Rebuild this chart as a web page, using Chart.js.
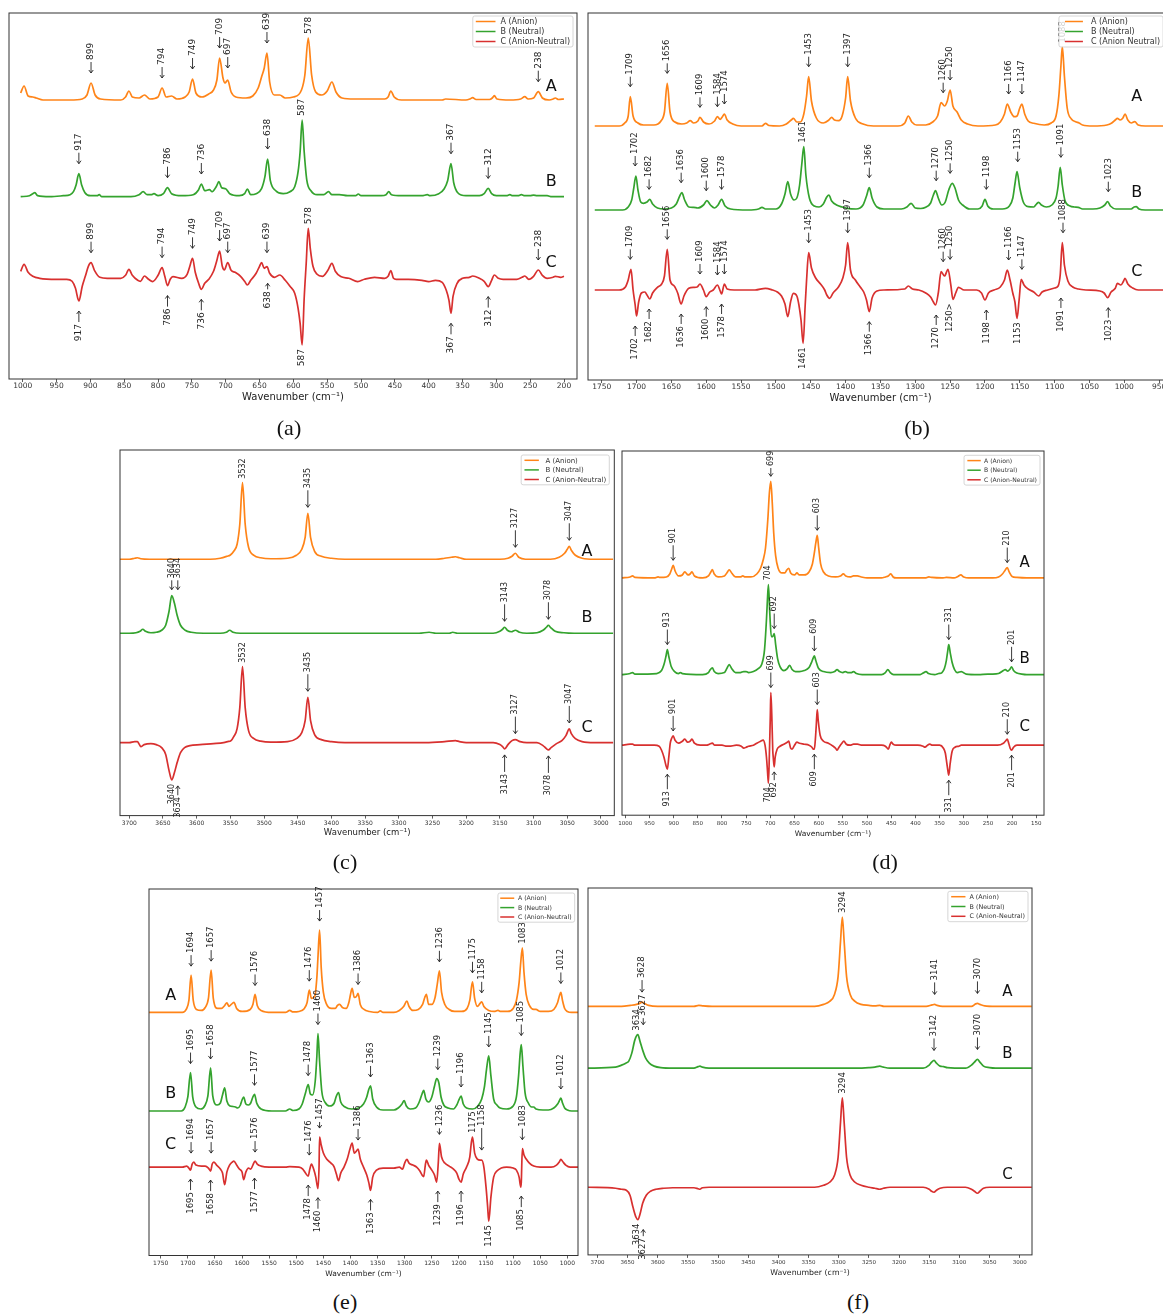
<!DOCTYPE html>
<html>
<head>
<meta charset="utf-8">
<script src="https://cdn.jsdelivr.net/npm/chart.js@4.4.0/dist/chart.umd.min.js"></script>
<style>
html, body { margin: 0; padding: 0; background: #fff; overflow: hidden; width: 1163px; height: 1316px; }
canvas { position: absolute; }
.cap { position: absolute; font-family: "Liberation Serif", "Times New Roman", serif; font-size: 22px; color: #111; transform: translate(-50%, -50%); }
</style>
</head>
<body>
<canvas id="pa"></canvas>
<canvas id="pb"></canvas>
<canvas id="pc"></canvas>
<canvas id="pd"></canvas>
<canvas id="pe"></canvas>
<canvas id="pf"></canvas>
<div class="cap" style="left:289px;top:428px">(a)</div>
<div class="cap" style="left:917px;top:428px">(b)</div>
<div class="cap" style="left:345px;top:862px">(c)</div>
<div class="cap" style="left:885px;top:862px">(d)</div>
<div class="cap" style="left:345px;top:1302px">(e)</div>
<div class="cap" style="left:858px;top:1302px">(f)</div>
<script>
// tick labels (wavenumber, cm-1)
var ticksA = [1000, 950, 900, 850, 800, 750, 700, 650, 600, 550, 500, 450, 400, 350, 300, 250, 200];
var ticksB = [1750, 1700, 1650, 1600, 1550, 1500, 1450, 1400, 1350, 1300, 1250, 1200, 1150, 1100, 1050, 1000, 950];
var ticksC = [3700, 3650, 3600, 3550, 3500, 3450, 3400, 3350, 3300, 3250, 3200, 3150, 3100, 3050, 3000];
var ticksD = [1000, 950, 900, 850, 800, 750, 700, 650, 600, 550, 500, 450, 400, 350, 300, 250, 200, 150];
var ticksE = [1750, 1700, 1650, 1600, 1550, 1500, 1450, 1400, 1350, 1300, 1250, 1200, 1150, 1100, 1050, 1000];
var ticksF = [3700, 3650, 3600, 3550, 3500, 3450, 3400, 3350, 3300, 3250, 3200, 3150, 3100, 3050, 3000];

var seriesNames = ['A (Anion)', 'B (Neutral)', 'C (Anion-Neutral)'];

// spectra: [wavenumber, intensity] (arbitrary units, each trace relative to its own baseline)
var aAnion = [[1003,7],[998,14],[992,4],[985,3],[980,2],[970,0],[930,0],[912,1],[905,5],[899,17],[893,5],[885,1],[855,0],[848,3],[843,9],[838,3],[828,2],[820,5],[812,1],[800,3],[794,12],[788,3],[780,4],[772,1],[760,3],[754,8],[749,21],[744,7],[735,3],[725,6],[718,10],[713,20],[709,42],[704,22],[701,17],[697,20],[692,8],[685,3],[670,2],[660,4],[652,12],[647,23],[643,32],[639,47],[635,18],[628,5],[620,5],[612,2],[600,3],[588,10],[583,25],[578,62],[573,25],[567,8],[558,5],[550,9],[543,18],[537,8],[528,2],[510,1],[480,1],[465,1],[460,3],[456,9],[451,3],[440,0],[380,0],[375,1],[345,0],[339,1],[335,2.3],[330,0.5],[310,0.5],[306,2],[303,4.3],[299,1],[280,0],[264,1],[258,3.3],[253,1],[245,2],[238,8.3],[232,2],[222,0],[216,1],[213,2],[208,0.5],[200,1]];
var aNeutral = [[1003,0],[990,1],[985,3],[982,4],[978,1],[960,0],[940,1],[930,2],[925,5],[921,12],[917,23],[913,12],[908,4],[900,1],[890,1],[887,2],[883,0],[840,0],[828,2],[822,5],[816,2],[810,2],[806,3],[800,1],[792,3],[786,9],[780,3],[765,1],[748,2],[740,7],[736,12.7],[731,6],[724,7],[720,5],[714,10],[710,15],[706,9],[700,8],[694,3],[680,1],[672,3],[668,7.7],[663,2],[655,3],[647,8],[642,20],[638,37.7],[634,16],[626,6],[615,3],[605,5],[598,10],[593,25],[590,45],[587,76.7],[584,45],[580,16],[574,6],[565,2],[555,2],[548,5],[543,2],[532,2],[520,1],[508,1],[504,2.7],[500,1],[470,1],[463,2],[459,5],[455,2],[440,1],[410,1],[402,2],[398,1],[385,3],[377,8],[372,16],[367,33],[363,14],[357,4],[345,1],[325,1],[318,3],[312,8.3],[307,3],[300,1],[285,1],[280,2],[276,1],[268,1],[263,2],[258,1],[250,1],[245,1.5],[240,1],[225,1],[218,0],[200,0]];
var aDiff = [[1003,7],[998,14],[992,6],[985,2],[975,0],[950,-1],[935,-1],[927,-3],[922,-10],[917,-22.7],[912,-8],[907,3],[903,12],[899,15.6],[894,8],[886,1],[875,0],[855,0],[848,3],[843,9],[838,3],[830,-2],[826,-3],[820,2.3],[814,-1],[808,-3.3],[800,3],[794,10.7],[790,2],[786,-7.3],[782,-1],[778,1.7],[765,0],[757,4],[753,12],[749,20],[745,6],[740,-5],[736,-11],[731,-5],[725,-1],[718,7],[713,18],[709,27.3],[705,12],[702,8.3],[697,15.7],[692,8],[686,6],[678,2],[672,-3],[668,-6.7],[663,-2],[655,5],[650,12],[647,15.7],[643,10],[639,11.7],[635,5],[628,1],[620,3.3],[612,-2],[605,-8],[598,-15],[593,-30],[590,-45],[587,-66.7],[584,-20],[581,15],[578,50],[575,30],[571,12],[565,4],[557,2],[549,8],[543,15],[538,7],[530,1.7],[518,0],[505,-3.3],[495,-1],[480,1],[465,0],[460,2],[456,7.7],[452,0],[448,-1],[430,-1],[410,-2],[400,-3.3],[390,-2],[380,-4],[374,-12],[370,-22],[367,-35],[364,-18],[358,-5],[350,0],[340,1],[335,2.3],[325,0],[318,-3],[312,-8.3],[307,-2],[303,3.3],[297,0],[290,-1],[270,-1],[262,1],[258,2.3],[252,-1],[245,2],[238,8.3],[232,3],[225,0],[216,1],[213,2],[205,1],[200,2]];

var bAnion = [[1760,0],[1725,0],[1717,3],[1712,10],[1709,29.3],[1705,10],[1698,3],[1690,1],[1675,1],[1665,5],[1660,14],[1656,42.7],[1652,14],[1645,4],[1635,2],[1628,3],[1623,5.3],[1618,3],[1612,5],[1609,8.7],[1604,4],[1596,2],[1588,5],[1584,9.3],[1580,6.7],[1577,9],[1574,12],[1570,6],[1562,2],[1550,0],[1520,0],[1515,2.7],[1510,0.5],[1495,0],[1485,2],[1478,6],[1475,7.7],[1470,4],[1465,4],[1460,12],[1456,30],[1453,49.3],[1449,25],[1442,8],[1432,3],[1424,6],[1420,8.7],[1416,6],[1410,5.3],[1405,10],[1400,28],[1397,49.3],[1393,25],[1386,8],[1375,2],[1360,0],[1325,0],[1315,3],[1310,10],[1305,4],[1298,1],[1285,1],[1275,4],[1268,10],[1263,23.3],[1258,20],[1254,25],[1250,36],[1246,20],[1240,14],[1234,6],[1225,2],[1210,0],[1185,1],[1178,4],[1172,12],[1168,22],[1163,14],[1158,9.3],[1154,10],[1150,18],[1147,22],[1143,12],[1138,5],[1130,2.7],[1115,1],[1105,3],[1098,10],[1094,30],[1091,60],[1089,79.3],[1086,50],[1082,18],[1076,7],[1070,4.3],[1065,3],[1060,1],[1045,0],[1025,1],[1018,3],[1013,6],[1010,7.7],[1006,6],[1002,8],[999,12],[995,6],[990,3],[985,4.3],[980,1],[970,0],[930,0]];
var bNeutral = [[1760,0],[1720,0],[1712,3],[1707,10],[1704,22],[1701,34],[1698,20],[1694,8],[1690,6.7],[1685,8],[1681,10.7],[1677,6],[1670,2],[1660,1],[1650,2],[1643,6],[1638,14],[1635,17.3],[1631,10],[1625,3],[1618,2.7],[1612,2],[1604,5],[1599,9.3],[1594,5],[1588,2],[1583,5],[1578,10.7],[1573,4],[1565,1],[1540,0],[1525,1],[1520,2.7],[1515,1],[1500,1],[1492,6],[1487,16],[1483,28.3],[1479,16],[1474,10],[1470,12],[1466,25],[1463,45],[1460,63.3],[1457,35],[1452,12],[1445,4],[1438,3],[1432,6],[1427,13],[1424,15],[1420,9],[1413,5],[1405,3],[1398,1.7],[1385,1],[1375,5],[1370,14],[1366,22.3],[1362,12],[1355,3],[1345,1],[1320,1],[1312,3],[1306,6.7],[1300,2],[1292,1.5],[1285,2.7],[1278,7],[1274,15],[1271,19.3],[1267,12],[1262,5],[1257,8],[1252,20],[1247,26.7],[1243,22],[1238,10],[1232,5],[1222,1],[1210,1],[1204,4],[1200,10.7],[1196,4],[1188,1],[1175,1],[1165,4],[1160,12],[1157,26],[1154,38.3],[1150,22],[1145,8],[1138,3.3],[1130,3],[1126,6],[1123,7.7],[1119,5],[1112,3],[1104,5],[1098,12],[1095,24],[1092,42.7],[1089,25],[1085,9],[1078,4],[1072,3],[1066,2.7],[1060,1],[1045,1],[1035,2],[1028,5],[1024,8.3],[1020,4],[1012,1],[1000,1],[990,1],[986,3],[983,3.3],[979,1],[970,0],[930,0]];
var bDiff = [[1760,0],[1725,0],[1716,3],[1712,10],[1708,20.7],[1705,0],[1702,-15],[1700,-26],[1697,-12],[1693,-3],[1688,-2],[1685,-5],[1681,-9],[1677,-3],[1670,2.7],[1664,6],[1660,14],[1656,40.7],[1652,10],[1646,4],[1641,-3],[1636,-14],[1632,-6],[1625,1.7],[1618,2.7],[1613,3],[1609,6],[1604,0],[1600,-6.7],[1595,-2],[1590,0],[1584,5],[1580,-1],[1578,-4],[1574,6],[1570,1],[1560,0],[1530,0],[1515,1.7],[1505,0],[1498,-2],[1492,-6],[1487,-14],[1483,-26.7],[1479,-12],[1475,-3.3],[1470,-6],[1467,-15],[1464,-30],[1461,-53.3],[1458,-15],[1456,10],[1453,37.3],[1449,22],[1443,12],[1436,6],[1430,0],[1427,-5],[1423,-8.3],[1418,-3],[1410,3.3],[1404,12],[1400,25],[1397,47.3],[1393,20],[1386,10],[1379,3],[1374,-2],[1370,-10],[1366,-21.7],[1362,-8],[1355,-1],[1345,0],[1315,1],[1310,4],[1304,1],[1295,0],[1285,-3],[1278,-7],[1274,-12],[1271,-15],[1267,-3],[1263,18.3],[1258,14],[1253,20.7],[1249,5],[1246,-9.3],[1242,-3],[1238,2.7],[1230,0],[1212,0],[1205,-3],[1200,-10],[1195,-3],[1187,0],[1178,3],[1172,10],[1168,20],[1164,10],[1160,-3.3],[1157,-12],[1154,-28.3],[1151,-10],[1148,10.7],[1144,5],[1138,1],[1130,-2],[1123,-6],[1118,-2],[1110,0],[1100,2],[1095,4],[1092,15],[1089,47.3],[1086,25],[1081,9],[1074,3],[1066,1],[1055,0],[1035,-1],[1029,-3],[1024,-7.7],[1019,-2],[1013,1.7],[1010,6.7],[1005,5],[1001,9],[999,11.7],[995,6],[988,2],[980,0],[930,0]];

var cAnion = [[3715,0],[3700,0],[3692,1],[3688,1.5],[3683,0.5],[3670,0],[3580,0],[3565,1],[3555,3],[3550,4.3],[3545,8],[3540,15],[3536,35],[3532,76.6],[3528,35],[3523,12],[3515,4],[3505,1.5],[3490,0.5],[3465,1],[3452,4],[3444,10],[3439,22],[3435,46],[3431,22],[3425,8],[3415,3],[3400,1],[3380,0],[3260,0],[3245,0],[3232,1],[3222,2],[3216,2.5],[3210,1.5],[3200,0],[3150,0],[3138,1],[3132,3],[3127,6],[3122,2],[3112,0],[3075,0],[3062,2],[3054,6],[3050,10],[3047,13],[3044,9],[3038,4],[3028,1],[3010,0],[2982,0]];
var cNeutral = [[3715,0],[3700,0],[3690,0.5],[3684,2],[3680,4],[3676,2],[3668,0.5],[3660,1],[3652,3],[3646,8],[3641,22],[3637,37.6],[3633,30],[3629,18],[3624,8],[3617,3],[3608,1],[3590,0],[3565,0],[3556,1],[3551,3],[3546,1],[3535,0],[3270,0],[3255,1],[3245,0],[3225,0],[3220,1],[3213,0],[3160,0],[3150,2],[3146,4],[3143,6],[3139,3],[3133,1.5],[3127,3],[3121,1],[3110,0],[3095,0.5],[3086,3],[3081,6],[3078,8],[3075,6],[3068,2],[3055,0.5],[3040,0],[2982,0]];
var cDiff = [[3715,0],[3700,0],[3692,1],[3688,1],[3685,-2],[3683,-4],[3678,-2],[3668,-1],[3660,-2],[3652,-5],[3646,-12],[3641,-28],[3637,-37.3],[3633,-30],[3629,-20],[3624,-10],[3618,-5],[3610,-3],[3595,-2],[3575,-1],[3560,0],[3554,1],[3549,2],[3545,6],[3540,14],[3536,35],[3532,76],[3528,35],[3523,12],[3515,4],[3505,1.5],[3490,0.5],[3465,1],[3452,4],[3444,10],[3439,22],[3435,45.4],[3431,22],[3425,8],[3415,3],[3400,1],[3380,0],[3260,0],[3232,1],[3216,2],[3210,1],[3200,0],[3160,0],[3150,-2],[3146,-4],[3143,-6.3],[3138,-2],[3132,2],[3127,3],[3120,1],[3110,0],[3095,0],[3086,-3],[3081,-6],[3078,-7.3],[3074,-5],[3066,-1],[3058,2],[3052,7],[3047,13.7],[3044,9],[3038,4],[3028,1],[3010,0],[2982,0]];

var dAnion = [[1007,0],[990,1],[985,2],[980,0.5],[940,0],[932,1],[928,0.5],[915,1],[908,4],[904,9],[901,12.7],[897,7],[890,2],[882,3],[877,6],[870,3],[866,4],[862,6],[857,2],[840,0],[828,2],[823,6],[820,8.4],[816,4],[808,1],[795,2],[790,5],[785,8],[780,5],[772,1],[762,1],[757,2],[752,1],[740,1],[728,4],[720,10],[715,17.7],[710,30],[705,60],[702,85],[699,96.7],[696,75],[693,45],[689,22],[684,10],[676,5],[670,5],[666,8],[662,9.7],[658,5],[650,3],[645,5],[640,3],[630,3],[620,6],[613,14],[609,25],[606,35],[603,42.7],[600,30],[596,14],[590,6],[580,2],[565,1],[555,2],[549,4],[544,2],[535,1],[528,2],[520,2],[512,1],[500,0],[470,0],[462,1],[456,2],[451,4],[446,1],[440,0],[380,0],[372,1],[366,0.5],[345,0],[336,0.5],[320,0],[312,1.5],[306,3],[300,1],[290,0],[240,0],[228,1],[220,4],[214,8],[210,10.4],[206,6],[200,1.5],[190,0.5],[170,0],[134,0]];
var dNeutral = [[1007,0],[990,1],[985,2],[980,0.5],[935,1],[925,4],[920,10],[916,18],[913,25],[910,18],[905,8],[898,3],[890,1],[886,2],[882,1],[840,0],[828,2],[824,5],[820,6.7],[816,3],[808,1],[795,2],[790,6],[785,10],[780,6],[772,2],[762,2],[755,3],[750,3],[745,2],[735,3],[725,6],[718,10],[712,25],[708,55],[706,75],[704,90],[701,60],[698,38],[695,38],[692,41],[689,30],[685,16],[680,8],[672,4],[665,6],[660,9.3],[655,5],[648,3],[640,3],[630,4],[620,7],[615,12],[611,17],[609,18.7],[606,14],[600,6],[590,3],[575,2],[567,3],[562,5],[557,3],[550,2],[545,3],[540,2],[532,2],[528,3],[522,1],[510,0],[470,0],[462,2],[457,5],[452,2],[445,0],[390,0],[384,1.5],[378,3],[373,1],[360,0],[352,1],[345,2],[340,6],[336,14],[333,24],[331,30],[328,22],[324,12],[319,5],[313,2],[305,3],[301,2],[295,0.5],[270,0],[250,0.5],[240,0.5],[228,1],[218,4],[214,5],[209,3.5],[205,5],[201,7.7],[197,4],[190,1.5],[180,0.5],[170,0],[134,0]];
var dDiff = [[1007,0],[990,1],[985,1],[980,0],[940,0],[930,-1],[925,-5],[920,-12],[916,-20],[913,-24],[910,-12],[907,2],[904,7],[901,9.3],[897,5],[890,2],[882,4],[877,6],[871,3],[866,4],[862,6],[857,2],[845,0],[832,0],[826,1],[820,2],[815,0],[800,0],[790,-1],[785,-1],[770,0],[760,-1],[755,-3],[750,-2],[745,-1],[735,0],[728,2],[720,4],[715,5],[711,0],[708,-12],[706,-25],[704,-38],[702,-10],[700,30],[699,52.7],[697,30],[695,-5],[694,-12],[692,-21.7],[690,-12],[686,-4],[680,-1],[672,1],[665,3],[662,4],[658,-3],[655,-4],[650,0],[645,3],[640,2],[630,1],[620,0],[614,-2],[611,-4],[609,-4],[607,5],[605,20],[603,35.7],[601,25],[597,10],[590,4],[580,2],[570,-1],[565,-3],[562,-5],[558,-2],[552,2],[548,4],[543,1],[535,0],[528,1],[520,1],[510,0],[470,0],[462,-1],[458,-3],[456,-4],[453,0],[450,3],[446,1],[440,0],[395,0],[384,-1],[380,-2],[375,0],[370,1],[365,0],[350,0],[342,-3],[338,-8],[335,-18],[332,-28],[331,-30],[328,-18],[324,-6],[318,-2],[310,-1],[305,0],[270,0],[230,0],[218,2],[214,4],[210,6],[207,2],[204,-3],[201,-5],[197,-2],[190,0],[170,0],[134,0]];

var eAnion = [[1772,0],[1710,0],[1703,3],[1698,12],[1694,37.3],[1690,12],[1684,3],[1675,2],[1668,5],[1662,14],[1657,42.3],[1653,14],[1645,4],[1638,4],[1632,7],[1628,9.6],[1624,6],[1620,8],[1615,10],[1610,4],[1600,1],[1585,3],[1580,8],[1576,18],[1572,7],[1565,2],[1545,0],[1520,0],[1512,2],[1506,0.5],[1495,1],[1485,4],[1480,10],[1476,22.3],[1472,14],[1466,16],[1462,35],[1460,55],[1457,82.3],[1454,45],[1450,20],[1444,8],[1435,4],[1428,4],[1424,7],[1420,8],[1415,5],[1408,4],[1403,10],[1400,18],[1397,24],[1393,15],[1389,16],[1386,19],[1382,8],[1375,3],[1365,1],[1350,0],[1345,1.5],[1340,0],[1320,0],[1310,2],[1302,6],[1296,11.3],[1292,6],[1285,2],[1275,3],[1267,8],[1263,15],[1260,18],[1256,8],[1250,8],[1244,15],[1240,28],[1236,41.6],[1232,20],[1226,8],[1218,3],[1208,1],[1195,1],[1185,4],[1180,12],[1175,30.6],[1171,14],[1166,6],[1161,9],[1158,10.6],[1154,6],[1145,2],[1135,1],[1128,2],[1123,1],[1110,1],[1100,4],[1094,12],[1089,30],[1086,50],[1083,64.6],[1080,40],[1076,18],[1070,7],[1062,3],[1058,3],[1050,1],[1035,1],[1025,3],[1018,10],[1015,16],[1012,20],[1009,12],[1005,4],[1000,1],[992,0],[980,0]];
var eNeutral = [[1772,0],[1712,0],[1705,4],[1700,14],[1695,38.4],[1691,14],[1685,4],[1676,2],[1669,5],[1663,15],[1658,43],[1654,15],[1646,6],[1640,8],[1636,16],[1632,23],[1628,10],[1622,5],[1617,4.5],[1612,4],[1608,3],[1603,6],[1600,11],[1597,14],[1593,7],[1588,6],[1584,8],[1580,14],[1577,16.7],[1573,8],[1565,2],[1545,0],[1520,0],[1512,2],[1506,0.5],[1495,2],[1489,7],[1483,18],[1478,26.4],[1474,17],[1470,16],[1465,30],[1462,55],[1460,77.4],[1457,50],[1453,20],[1446,8],[1438,5],[1430,8],[1426,15],[1422,18.4],[1418,9],[1410,4],[1398,2],[1385,3],[1376,7],[1370,14],[1366,22],[1363,25],[1359,12],[1352,4],[1340,1],[1320,1],[1312,3],[1305,7],[1301,10.4],[1297,5],[1290,2],[1280,3],[1274,8],[1268,17],[1265,20.7],[1261,12],[1256,9],[1250,14],[1245,25],[1241,32.4],[1237,28],[1233,14],[1228,6],[1220,3],[1210,2],[1204,6],[1200,11],[1196,15],[1192,7],[1186,3],[1175,2],[1165,5],[1158,12],[1153,24],[1149,42],[1145,55],[1141,35],[1136,12],[1130,6],[1124,3],[1112,2],[1100,5],[1094,14],[1090,35],[1087,58],[1085,66.4],[1082,45],[1078,18],[1072,8],[1066,4],[1062,4],[1058,2],[1045,1],[1035,1],[1025,3],[1018,7],[1015,10],[1012,13],[1009,8],[1005,3],[1000,1],[992,0],[980,0]];
var eDiff = [[1772,0],[1710,0],[1702,1],[1698,-1],[1695,-3],[1692,3],[1689,5],[1685,2],[1675,1],[1668,1],[1662,-1],[1658,-4],[1655,3],[1652,5],[1647,2],[1640,-2],[1636,-6],[1632,-17.6],[1628,-5],[1623,2],[1618,5],[1615,6],[1610,2],[1605,-2],[1600,-5],[1597,-12.6],[1593,-5],[1588,-1],[1584,-2],[1580,2],[1576,6],[1572,3],[1565,1],[1550,0],[1520,0],[1512,0.5],[1495,0],[1488,-2],[1483,-6],[1478,-9],[1475,-2],[1472,3],[1468,-2],[1464,-10],[1460,-21.6],[1458,0],[1457,30],[1454,22],[1450,14],[1444,8],[1436,4],[1430,0],[1426,-7],[1422,-13.6],[1418,-6],[1412,0],[1406,8],[1401,18],[1397,24],[1393,14],[1389,16],[1386,18],[1382,8],[1376,0],[1370,-8],[1366,-16],[1363,-23.3],[1359,-10],[1352,-3],[1340,-1],[1320,-1],[1310,0],[1304,-2],[1300,4],[1296,7.7],[1292,4],[1285,2],[1278,0],[1272,-4],[1268,-8],[1265,-9.6],[1262,2],[1260,7],[1256,2],[1250,-3],[1245,-8],[1241,-15],[1238,5],[1236,23.7],[1232,10],[1226,4],[1218,1],[1210,-2],[1204,-6],[1200,-12],[1196,-15],[1192,-7],[1186,0],[1180,10],[1177,25],[1175,30],[1171,14],[1166,8],[1161,7],[1158,7],[1154,0],[1150,-20],[1147,-40],[1145,-54],[1141,-30],[1136,-10],[1130,-4],[1122,-1],[1112,0],[1100,-1],[1094,-3],[1089,-10],[1086,-20],[1085,-15],[1083,18.4],[1080,12],[1076,8],[1070,4],[1062,1],[1050,0],[1030,0],[1020,2],[1015,5],[1012,7.7],[1008,5],[1003,2],[995,0],[980,0]];

var fAnion = [[3716,0],[3660,0],[3645,1],[3635,2],[3630,3],[3626,4.3],[3622,3],[3615,1],[3600,0],[3540,0],[3532,1],[3525,0.5],[3510,0],[3340,0],[3325,2],[3315,5],[3307,12],[3301,30],[3297,65],[3294,89.3],[3291,65],[3287,30],[3281,12],[3273,5],[3263,2],[3250,1],[3240,0.5],[3232,1],[3225,0],[3155,0],[3145,1.5],[3141,2],[3137,1],[3128,0],[3080,0],[3073,2.5],[3070,3],[3066,2],[3058,0.5],[3040,0],[2980,0]];
var fNeutral = [[3716,0],[3670,1],[3660,3],[3653,5],[3648,7],[3643,15],[3638,28],[3633,33.4],[3629,26],[3625,18],[3620,10],[3614,5],[3606,2],[3595,0.5],[3575,0],[3540,0],[3533,1.5],[3530,2],[3526,1],[3515,0],[3270,0],[3250,0.5],[3240,1],[3232,2],[3226,1],[3215,0],[3160,0],[3150,3],[3146,6],[3142,7.7],[3138,5],[3132,2],[3126,1.5],[3120,0.5],[3090,0],[3080,3],[3075,6],[3070,8.7],[3066,6],[3060,2],[3050,0.5],[3040,0],[2980,0]];
var fDiff = [[3716,0],[3670,-1],[3660,-2],[3652,-3],[3646,-8],[3641,-20],[3636,-30],[3633,-32.3],[3629,-26],[3625,-16],[3619,-8],[3612,-4],[3603,-2],[3590,-1],[3575,-0.5],[3540,-0.5],[3533,-1.5],[3530,-2],[3526,-0.5],[3515,0],[3340,0],[3325,2],[3315,5],[3307,12],[3301,30],[3297,65],[3294,89.4],[3291,65],[3287,30],[3281,12],[3273,5],[3263,2],[3250,0],[3240,-1],[3232,-2],[3226,-1],[3215,0],[3160,0],[3150,-2],[3146,-4],[3142,-5],[3138,-3],[3132,-1],[3120,0],[3090,0],[3080,-2],[3075,-4],[3070,-6],[3066,-4],[3060,-1],[3050,0],[2980,0]];

// peak labels: [wavenumber, text, trace (0 A, 1 B, 2 C), 'd' label above / 'u' label below, arrow 0 none 1 normal 2 short 3 long]
var aPeaks = [[899,'899',0,'d',1],[794,'794',0,'d',1],[749,'749',0,'d',1],[709,'709',0,'d',1],[697,'697',0,'d',1],[639,'639',0,'d',1],[578,'578',0,'d',0],[238,'238',0,'d',1],
  [917,'917',1,'d',1],[786,'786',1,'d',1],[736,'736',1,'d',1],[638,'638',1,'d',1],[587,'587',1,'d',0],[367,'367',1,'d',1],[312,'312',1,'d',1],
  [899,'899',2,'d',1],[794,'794',2,'d',1],[749,'749',2,'d',1],[709,'709',2,'d',1],[697,'697',2,'d',1],[639,'639',2,'d',1],[578,'578',2,'d',0],[238,'238',2,'d',1],
  [917,'917',2,'u',1],[786,'786',2,'u',1],[736,'736',2,'u',1],[638,'638',2,'u',2],[587,'587',2,'u',0],[367,'367',2,'u',1],[312,'312',2,'u',1]];
var bPeaks = [[1709,'1709',0,'d',1],[1656,'1656',0,'d',1],[1609,'1609',0,'d',1],[1584,'1584',0,'d',1],[1574,'1574',0,'d',1],[1453,'1453',0,'d',1],[1397,'1397',0,'d',1],[1260,'1260',0,'d',1],[1250,'1250',0,'d',1],[1166,'1166',0,'d',1],[1147,'1147',0,'d',1],[1088,'1088',0,'d',0],
  [1702,'1702',1,'d',1],[1682,'1682',1,'d',1],[1636,'1636',1,'d',1],[1600,'1600',1,'d',1],[1578,'1578',1,'d',1],[1461,'1461',1,'d',0],[1366,'1366',1,'d',1],[1270,'1270',1,'d',1],[1250,'1250',1,'d',1],[1198,'1198',1,'d',1],[1153,'1153',1,'d',1],[1091,'1091',1,'d',1],[1023,'1023',1,'d',1],
  [1709,'1709',2,'d',1],[1656,'1656',2,'d',1],[1609,'1609',2,'d',1],[1584,'1584',2,'d',1],[1574,'1574',2,'d',1],[1453,'1453',2,'d',1],[1397,'1397',2,'d',1],[1260,'1260',2,'d',1],[1250,'1250',2,'d',1],[1166,'1166',2,'d',1],[1147,'1147',2,'d',1],[1088,'1088',2,'d',1],
  [1702,'1702',2,'u',1],[1682,'1682',2,'u',1],[1636,'1636',2,'u',1],[1600,'1600',2,'u',1],[1578,'1578',2,'u',1],[1461,'1461',2,'u',0],[1366,'1366',2,'u',1],[1270,'1270',2,'u',1],[1250,'1250>',2,'u',0],[1198,'1198',2,'u',1],[1153,'1153',2,'u',0],[1091,'1091',2,'u',1],[1023,'1023',2,'u',1]];
var cPeaks = [[3532,'3532',0,'d',0],[3435,'3435',0,'d',1],[3127,'3127',0,'d',1],[3047,'3047',0,'d',1],
  [3637,'3640',1,'d',2],[3628,'3634',1,'d',2],[3143,'3143',1,'d',1],[3078,'3078',1,'d',1],
  [3532,'3532',2,'d',0],[3435,'3435',2,'d',1],[3127,'3127',2,'d',1],[3047,'3047',2,'d',1],
  [3637,'3640',2,'u',0],[3628,'3634',2,'u',2],[3143,'3143',2,'u',1],[3078,'3078',2,'u',1]];
var dPeaks = [[901,'901',0,'d',1],[699,'699',0,'d',2],[603,'603',0,'d',1],[210,'210',0,'d',1],
  [913,'913',1,'d',1],[704,'704',1,'d',0],[692,'692',1,'d',1],[609,'609',1,'d',1],[331,'331',1,'d',1],[201,'201',1,'d',1],
  [901,'901',2,'d',1],[699,'699',2,'d',1],[603,'603',2,'d',1],[210,'210',2,'d',1],
  [913,'913',2,'u',1],[704,'704',2,'u',0],[692,'692',2,'u',2],[609,'609',2,'u',1],[331,'331',2,'u',1],[201,'201',2,'u',1]];
var ePeaks = [[1694,'1694',0,'d',1],[1657,'1657',0,'d',1],[1576,'1576',0,'d',1],[1476,'1476',0,'d',1],[1457,'1457',0,'d',1],[1386,'1386',0,'d',1],[1236,'1236',0,'d',1],[1175,'1175',0,'d',1],[1158,'1158',0,'d',1],[1083,'1083',0,'d',0],[1012,'1012',0,'d',1],
  [1695,'1695',1,'d',1],[1658,'1658',1,'d',1],[1577,'1577',1,'d',1],[1478,'1478',1,'d',1],[1460,'1460',1,'d',1],[1363,'1363',1,'d',1],[1239,'1239',1,'d',1],[1196,'1196',1,'d',1],[1145,'1145',1,'d',1],[1085,'1085',1,'d',1],[1012,'1012',1,'d',1],
  [1694,'1694',2,'d',1],[1657,'1657',2,'d',1],[1576,'1576',2,'d',1],[1476,'1476',2,'d',1],[1457,'1457',2,'d',2],[1386,'1386',2,'d',1],[1236,'1236',2,'d',2],[1175,'1175',2,'d',0],[1158,'1158',2,'d',3],[1083,'1083',2,'d',1],
  [1695,'1695',2,'u',1],[1658,'1658',2,'u',1],[1577,'1577',2,'u',1],[1478,'1478',2,'u',1],[1460,'1460',2,'u',1],[1363,'1363',2,'u',1],[1239,'1239',2,'u',1],[1196,'1196',2,'u',1],[1145,'1145',2,'u',0],[1085,'1085',2,'u',1]];
var fPeaks = [[3626,'3628',0,'d',1],[3294,'3294',0,'d',0],[3141,'3141',0,'d',1],[3070,'3070',0,'d',1],
  [3635,'3634',1,'d',0],[3624,'3627',1,'d',2],[3142,'3142',1,'d',1],[3070,'3070',1,'d',1],
  [3294,'3294',2,'d',0],[3635,'3634',2,'u',0],[3624,'3627',2,'u',2]];

var colors = ['#ff8418', '#34a32e', '#d8302f'];
var family = '"DejaVu Sans", sans-serif';
var TOP_PAD = 20;

// panel layout (page pixels) and trace offsets
var panels = [
  { id: 'pa', frame: [9, 13, 577, 379], xr: [180.8, 1020.25], ticks: ticksA, axisH: 24, tickFont: 7.5, tickPad: 0, titleFont: 10,
    traces: [aAnion, aNeutral, aDiff], base: [279, 182.3, 100.7], peaks: aPeaks,
    letterX: 219, letterY: [291.7, 196.7, 115.7], letterFont: 16, noteFont: 9, arrow: 11, gap: 10,
    legend: { font: 8, r: 4, t: 3, pad: 3, sample: 19.7, gap: 5, row: 10 }, names: seriesNames },
  { id: 'pb', frame: [588, 13, 1173.1, 380], xr: [930, 1769.7], ticks: ticksB, axisH: 24, tickFont: 7.5, tickPad: 0, titleFont: 10,
    traces: [bAnion, bNeutral, bDiff], base: [254, 170, 90], peaks: bPeaks,
    letterX: 982.2, letterY: [283.3, 186.7, 108.3], letterFont: 16, noteFont: 8.5, arrow: 10, gap: 10,
    legend: { font: 8, r: 10, t: 3, pad: 6, sample: 18, gap: 8, row: 10 }, names: ['A (Anion)', 'B (Neutral)', 'C (Anion Neutral)'] },
  { id: 'pc', frame: [119.7, 450, 614, 815.7], xr: [2980.2, 3713.8], ticks: ticksC, axisH: 22.4, tickFont: 6, tickPad: 1.7, titleFont: 8.5,
    traces: [cAnion, cNeutral, cDiff], base: [256.4, 182.4, 73], peaks: cPeaks,
    letterX: 3020.7, letterY: [264, 197.7, 87.7], letterFont: 16, noteFont: 8, arrow: 17, gap: 6,
    legend: { font: 7, r: 5, t: 5, pad: 3.3, sample: 14.4, gap: 6.6, row: 9.6 }, names: seriesNames },
  { id: 'pd', frame: [622, 450.7, 1044, 815], xr: [134, 1006.8], ticks: ticksD, axisH: 23.8, tickFont: 5.5, tickPad: 2, titleFont: 7.5,
    traces: [dAnion, dNeutral, dDiff], base: [237.3, 140.7, 70], peaks: dPeaks,
    letterX: 174, letterY: [251.7, 155.7, 88.3], letterFont: 15, noteFont: 8, arrow: 15, gap: 5,
    legend: { font: 6.1, r: 4, t: 4.3, pad: 3.3, sample: 13.4, gap: 3.3, row: 9.6 }, names: seriesNames },
  { id: 'pe', frame: [149.3, 889, 578.3, 1255], xr: [980.4, 1771.6], ticks: ticksE, axisH: 23.5, tickFont: 6, tickPad: 1.1, titleFont: 7.5,
    traces: [eAnion, eNeutral, eDiff], base: [242.7, 144.3, 88.3], peaks: ePeaks,
    letterX: 1731.6, letterY: [259.3, 161.7, 111], letterFont: 16, noteFont: 8.5, arrow: 11, gap: 9,
    legend: { font: 6.2, r: 3.3, t: 4, pad: 2.3, sample: 14, gap: 3.7, row: 9.4 }, names: seriesNames },
  { id: 'pf', frame: [588.3, 887.7, 1032.3, 1254.3], xr: [2979.6, 3715.6], ticks: ticksF, axisH: 23.1, tickFont: 5.5, tickPad: 1.1, titleFont: 7.8,
    traces: [fAnion, fNeutral, fDiff], base: [248.3, 186.6, 67.6], peaks: fPeaks,
    letterX: 3020.4, letterY: [262.6, 200.3, 79.3], letterFont: 15, noteFont: 8.5, arrow: 12, gap: 10,
    legend: { font: 6.4, r: 4, t: 3.3, pad: 3.3, sample: 14.3, gap: 4, row: 9.8 }, names: seriesNames }
];

function drawNote(chart, p, n) {
  var ctx = chart.ctx, xs = chart.scales.x, ys = chart.scales.y;
  var wn = n[0], label = n[1], pts = chart.data.datasets[n[2]].data, dir = n[3], kind = n[4];
  var ext = null, best = 1e9;
  pts.forEach(function (q) {
    var d = Math.abs(q.x - wn);
    if (d < best) { best = d; if (d > 5) ext = q.y; }
  });
  pts.forEach(function (q) {
    if (Math.abs(q.x - wn) <= 5) {
      if (ext === null || (dir === 'd' ? q.y > ext : q.y < ext)) ext = q.y;
    }
  });
  var px = xs.getPixelForValue(wn), py = ys.getPixelForValue(ext);
  var sgn = dir === 'd' ? -1 : 1;
  var len = kind === 0 ? 0 : p.arrow * (kind === 2 ? 0.55 : kind === 3 ? 2 : 1);
  var tip = py + sgn * (kind === 0 ? 4 : p.gap);
  ctx.strokeStyle = '#222';
  ctx.fillStyle = '#222';
  ctx.lineWidth = 0.9;
  if (len) {
    ctx.beginPath();
    ctx.moveTo(px, tip + sgn * len);
    ctx.lineTo(px, tip);
    ctx.moveTo(px - 2.2, tip + sgn * 3);
    ctx.lineTo(px, tip);
    ctx.lineTo(px + 2.2, tip + sgn * 3);
    ctx.stroke();
  }
  var at = tip + sgn * (len ? len + 2 : 0);
  ctx.save();
  ctx.translate(px, at);
  ctx.rotate(-Math.PI / 2);
  ctx.font = p.noteFont + 'px ' + family;
  ctx.textBaseline = 'middle';
  ctx.textAlign = dir === 'd' ? 'left' : 'right';
  ctx.fillText(label, 0, 0);
  ctx.restore();
}

var decor = {
  id: 'decor',
  afterDatasetsDraw: function (chart, args, p) {
    var ctx = chart.ctx, ca = chart.chartArea;
    ctx.save();
    ctx.strokeStyle = '#333';
    ctx.lineWidth = 1;
    ctx.strokeRect(ca.left, ca.top, ca.right - ca.left, ca.bottom - ca.top);
    ctx.fillStyle = '#111';
    ctx.font = p.letterFont + 'px ' + family;
    ctx.textAlign = 'center';
    ctx.textBaseline = 'middle';
    ['A', 'B', 'C'].forEach(function (t, i) {
      ctx.fillText(t, chart.scales.x.getPixelForValue(p.letterX), chart.scales.y.getPixelForValue(p.letterY[i]));
    });
    p.peaks.forEach(function (n) { drawNote(chart, p, n); });
    ctx.restore();
  },
  afterDraw: function (chart, args, p) {
    var ctx = chart.ctx, ca = chart.chartArea, L = p.legend;
    ctx.save();
    ctx.font = L.font + 'px ' + family;
    var tw = Math.max.apply(null, p.names.map(function (t) { return ctx.measureText(t).width; }));
    var w = L.pad + L.sample + L.gap + tw + 3, h = 3 * L.row + 1;
    var x0 = ca.right - L.r - w, y0 = ca.top + L.t;
    ctx.fillStyle = 'rgba(255,255,255,0.8)';
    ctx.strokeStyle = '#cccccc';
    ctx.lineWidth = 0.8;
    ctx.beginPath();
    if (ctx.roundRect) ctx.roundRect(x0, y0, w, h, 2); else ctx.rect(x0, y0, w, h);
    ctx.fill();
    ctx.stroke();
    ctx.textAlign = 'left';
    ctx.textBaseline = 'middle';
    p.names.forEach(function (t, i) {
      var yy = y0 + 0.5 + L.row * (i + 0.5);
      ctx.strokeStyle = colors[i];
      ctx.lineWidth = 1.5;
      ctx.beginPath();
      ctx.moveTo(x0 + L.pad, yy);
      ctx.lineTo(x0 + L.pad + L.sample, yy);
      ctx.stroke();
      ctx.fillStyle = '#333';
      ctx.fillText(t, x0 + L.pad + L.sample + L.gap, yy + 0.5);
    });
    ctx.restore();
  }
};

panels.forEach(function (p) {
  var f = p.frame, fw = f[2] - f[0], fh = f[3] - f[1];
  var cv = document.getElementById(p.id);
  cv.width = Math.round(fw + 24);
  cv.height = Math.round(TOP_PAD + fh + p.axisH);
  cv.style.left = (f[0] - 12) + 'px';
  cv.style.top = (f[1] - TOP_PAD) + 'px';
  var datasets = p.traces.map(function (tr, i) {
    return {
      label: p.names[i],
      data: tr.map(function (q) { return { x: q[0], y: q[1] + p.base[i] }; }),
      borderColor: colors[i],
      borderWidth: 1.7,
      pointRadius: 0,
      fill: false,
      cubicInterpolationMode: 'monotone'
    };
  });
  new Chart(cv, {
    type: 'line',
    data: { datasets: datasets },
    plugins: [decor],
    options: {
      responsive: false,
      animation: false,
      events: [],
      layout: { padding: { left: 12, right: 12 + (cv.width - fw - 24), top: TOP_PAD, bottom: 0 } },
      plugins: { legend: { display: false }, tooltip: { enabled: false }, decor: p },
      scales: {
        x: {
          type: 'linear', reverse: true, min: p.xr[0], max: p.xr[1],
          afterBuildTicks: function (s) { s.ticks = p.ticks.map(function (v) { return { value: v }; }); },
          afterFit: function (s) { s.height = p.axisH; },
          grid: { display: true, drawOnChartArea: false, drawTicks: true, tickLength: 3, color: '#333', lineWidth: 0.8 },
          border: { display: false },
          ticks: { font: { family: family, size: p.tickFont }, color: '#333', padding: p.tickPad, maxRotation: 0, autoSkip: false,
            callback: function (v) { return String(v); } },
          title: { display: true, text: 'Wavenumber (cm\u207B\u00B9)', font: { family: family, size: p.titleFont }, color: '#222', padding: 0 }
        },
        y: { display: false, min: 0, max: fh }
      }
    }
  });
});
</script>
</body>
</html>
